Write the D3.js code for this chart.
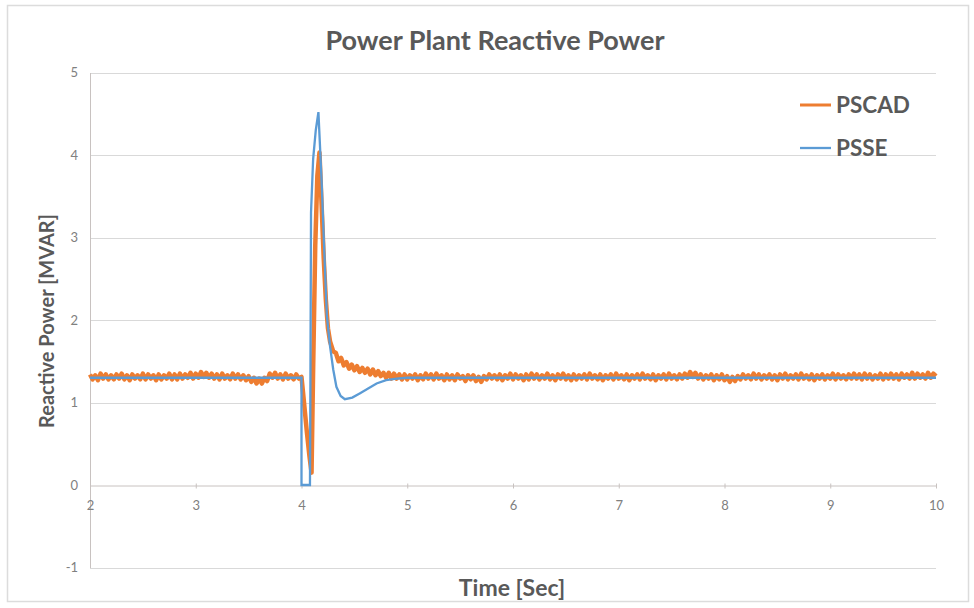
<!DOCTYPE html>
<html><head><meta charset="utf-8">
<script src="https://cdn.jsdelivr.net/npm/d3@7"></script>
<style>
body{margin:0;background:#fff;}
svg{display:block;}
text{font-family:Lato,"Open Sans",sans-serif;}
</style></head>
<body>
<svg id="c" width="974" height="608"></svg>
<script>
const title = "Power Plant Reactive Power";
const xTitle = "Time [Sec]";
const yTitle = "Reactive Power [MVAR]";
const seriesNames = ["PSCAD", "PSSE"];
const xTicks = [2,3,4,5,6,7,8,9,10];
const yTicks = [-1,0,1,2,3,4,5];

// PSSE (smooth) [time, MVAR]
const psse = [[2,1.3],[4.0,1.3],[4.0,0],[4.08,0],[4.085,1.5],[4.09,3.3],[4.11,3.95],[4.135,4.3],[4.16,4.52],
  [4.19,3.69],[4.215,2.85],[4.24,2.05],[4.27,1.68],[4.30,1.40],[4.33,1.19],[4.37,1.08],[4.41,1.04],[4.48,1.06],
  [4.55,1.11],[4.63,1.17],[4.71,1.23],[4.80,1.27],[4.90,1.29],[5.0,1.30],[10,1.30]];

// PSCAD pre-disturbance samples, 2.000 s to 4.000 s every 0.025 s
const pscadPreStart = 2.0, pscadStep = 0.025;
const pscadPre = [
  1.34,1.28,1.33,1.27,1.35,1.29,1.34,1.28,
  1.33,1.28,1.34,1.29,1.35,1.28,1.33,1.27,
  1.34,1.29,1.33,1.28,1.35,1.28,1.34,1.29,
  1.33,1.27,1.34,1.28,1.33,1.29,1.35,1.28,
  1.34,1.28,1.35,1.29,1.34,1.30,1.36,1.29,
  1.35,1.30,1.37,1.31,1.36,1.30,1.35,1.29,
  1.34,1.28,1.35,1.29,1.33,1.28,1.35,1.29,
  1.34,1.28,1.33,1.27,1.32,1.25,1.30,1.23,
  1.29,1.23,1.30,1.26,1.35,1.30,1.36,1.29,
  1.34,1.28,1.35,1.29,1.33,1.28,1.34,1.29,
  1.31];
// PSCAD transient [time, MVAR]
const pscadTransient = [[4.02,1.05],[4.05,0.65],[4.075,0.35],[4.095,0.15],[4.11,1.4],[4.13,2.9],[4.15,3.75],
  [4.17,4.03],[4.19,3.4],[4.21,2.75],[4.23,2.25],[4.25,1.9],[4.27,1.74],[4.30,1.62]];
// PSCAD post-disturbance samples, 4.325 s to 10.000 s every 0.025 s
const pscadPostStart = 4.325;
const pscadPost = [
  1.60,1.50,1.54,1.45,1.49,1.41,1.46,1.39,1.44,1.37,1.42,1.36,1.41,1.34,1.40,1.33,1.38,1.32,1.36,1.30,
  1.36,1.29,1.35,1.29,1.34,1.28,1.34,
  1.28,1.33,1.29,1.34,1.27,1.33,1.28,1.35,
  1.29,1.34,1.28,1.35,1.29,1.33,1.27,1.34,
  1.28,1.33,1.27,1.34,1.29,1.32,1.26,1.33,
  1.28,1.33,1.26,1.31,1.25,1.32,1.28,1.34,
  1.29,1.33,1.28,1.34,1.27,1.33,1.29,1.35,
  1.28,1.34,1.29,1.33,1.27,1.34,1.28,1.35,
  1.29,1.34,1.28,1.33,1.29,1.35,1.28,1.33,
  1.27,1.34,1.29,1.35,1.28,1.33,1.27,1.34,
  1.28,1.33,1.29,1.34,1.28,1.35,1.29,1.33,
  1.28,1.34,1.27,1.33,1.29,1.34,1.28,1.35,
  1.29,1.33,1.28,1.34,1.27,1.33,1.29,1.34,
  1.28,1.35,1.29,1.33,1.28,1.34,1.27,1.33,
  1.29,1.34,1.28,1.35,1.29,1.33,1.28,1.34,
  1.29,1.35,1.30,1.37,1.31,1.36,1.29,1.34,
  1.28,1.33,1.29,1.34,1.27,1.33,1.28,1.34,
  1.27,1.32,1.25,1.31,1.26,1.32,1.28,1.34,
  1.29,1.33,1.28,1.35,1.29,1.34,1.28,1.33,
  1.29,1.34,1.28,1.33,1.27,1.34,1.29,1.35,
  1.28,1.33,1.29,1.34,1.28,1.35,1.29,1.33,
  1.28,1.34,1.27,1.33,1.29,1.34,1.28,1.33,
  1.29,1.35,1.28,1.34,1.29,1.33,1.28,1.34,
  1.29,1.35,1.29,1.34,1.28,1.35,1.29,1.34,
  1.28,1.33,1.29,1.35,1.28,1.34,1.29,1.35,
  1.29,1.34,1.28,1.35,1.30,1.34,1.29,1.36,
  1.29,1.35,1.30,1.34,1.29,1.36,1.30,1.35,
  1.32];

const colors = {PSCAD:"#ED7D31", PSSE:"#5B9BD5"};

const pscad = []
  .concat(pscadPre.map((v,i)=>[pscadPreStart+i*pscadStep, v]))
  .concat(pscadTransient)
  .concat(pscadPost.map((v,i)=>[pscadPostStart+i*pscadStep, v]));

const svg = d3.select("#c");
const x = d3.scaleLinear().domain([2,10]).range([90, 936]);
const y = d3.scaleLinear().domain([-1,5]).range([567.5, 72.5]);

svg.append("rect").attr("x",7.5).attr("y",5.5).attr("width",961).attr("height",596)
  .attr("fill","#fff").attr("stroke","#dcdcdc").attr("stroke-width",1.5);

// gridlines
svg.append("g").selectAll("line").data(yTicks.filter(d=>d!==0)).join("line")
  .attr("x1",x(2)).attr("x2",x(10)).attr("y1",d=>Math.round(y(d))+0.5).attr("y2",d=>Math.round(y(d))+0.5)
  .attr("stroke","#d9d9d9").attr("stroke-width",1);

// y axis
const yAxis = svg.append("g").attr("transform",`translate(${x(2)},0)`)
  .call(d3.axisLeft(y).tickValues(yTicks).tickSize(0).tickPadding(12).tickFormat(d=>String(d)));
yAxis.select(".domain").attr("stroke","#c8c2c0");
yAxis.selectAll("text").attr("fill","#808080").style("font-size","13px");

// x axis at y=0
const xAxis = svg.append("g").attr("transform",`translate(0,${Math.round(y(0))+0.5})`)
  .call(d3.axisBottom(x).tickValues(xTicks).tickSizeInner(5).tickSizeOuter(0).tickPadding(10).tickFormat(d=>String(d)));
xAxis.select(".domain").attr("stroke","#c8c2c0");
xAxis.selectAll(".tick line").attr("stroke","#c8c2c0").attr("y1",-2).attr("y2",3);
xAxis.selectAll("text").attr("fill","#808080").style("font-size","13px");

const line = d3.line().x(d=>x(d[0])).y(d=>y(d[1]));

svg.append("path").datum(pscad).attr("d",line).attr("fill","none")
  .attr("stroke",colors.PSCAD).attr("stroke-width",4.5).attr("stroke-linejoin","round");
svg.append("path").datum(psse).attr("d",line).attr("fill","none")
  .attr("stroke",colors.PSSE).attr("stroke-width",2.3).attr("stroke-linejoin","miter");

// titles
svg.append("text").attr("x",495).attr("y",50).attr("text-anchor","middle")
  .style("font-size","27px").style("font-weight","bold").attr("fill","#595959").text(title);
svg.append("text").attr("x",512).attr("y",596).attr("text-anchor","middle")
  .style("font-size","23px").style("font-weight","bold").attr("fill","#595959").text(xTitle);
svg.append("text").attr("transform","translate(54,321) rotate(-90)").attr("text-anchor","middle")
  .style("font-size","20px").style("font-weight","bold").attr("fill","#595959").text(yTitle);

// legend
const lg = svg.append("g");
seriesNames.forEach((n,i)=>{
  const ly = 105 + i*43;
  lg.append("line").attr("x1",800).attr("x2",831).attr("y1",ly).attr("y2",ly)
    .attr("stroke",colors[n]).attr("stroke-width",n==="PSCAD"?3:2.3);
  lg.append("text").attr("x",836).attr("y",ly+8).style("font-size","22.5px").style("font-weight","bold")
    .attr("fill","#595959").text(n);
});
</script>
</body></html>
